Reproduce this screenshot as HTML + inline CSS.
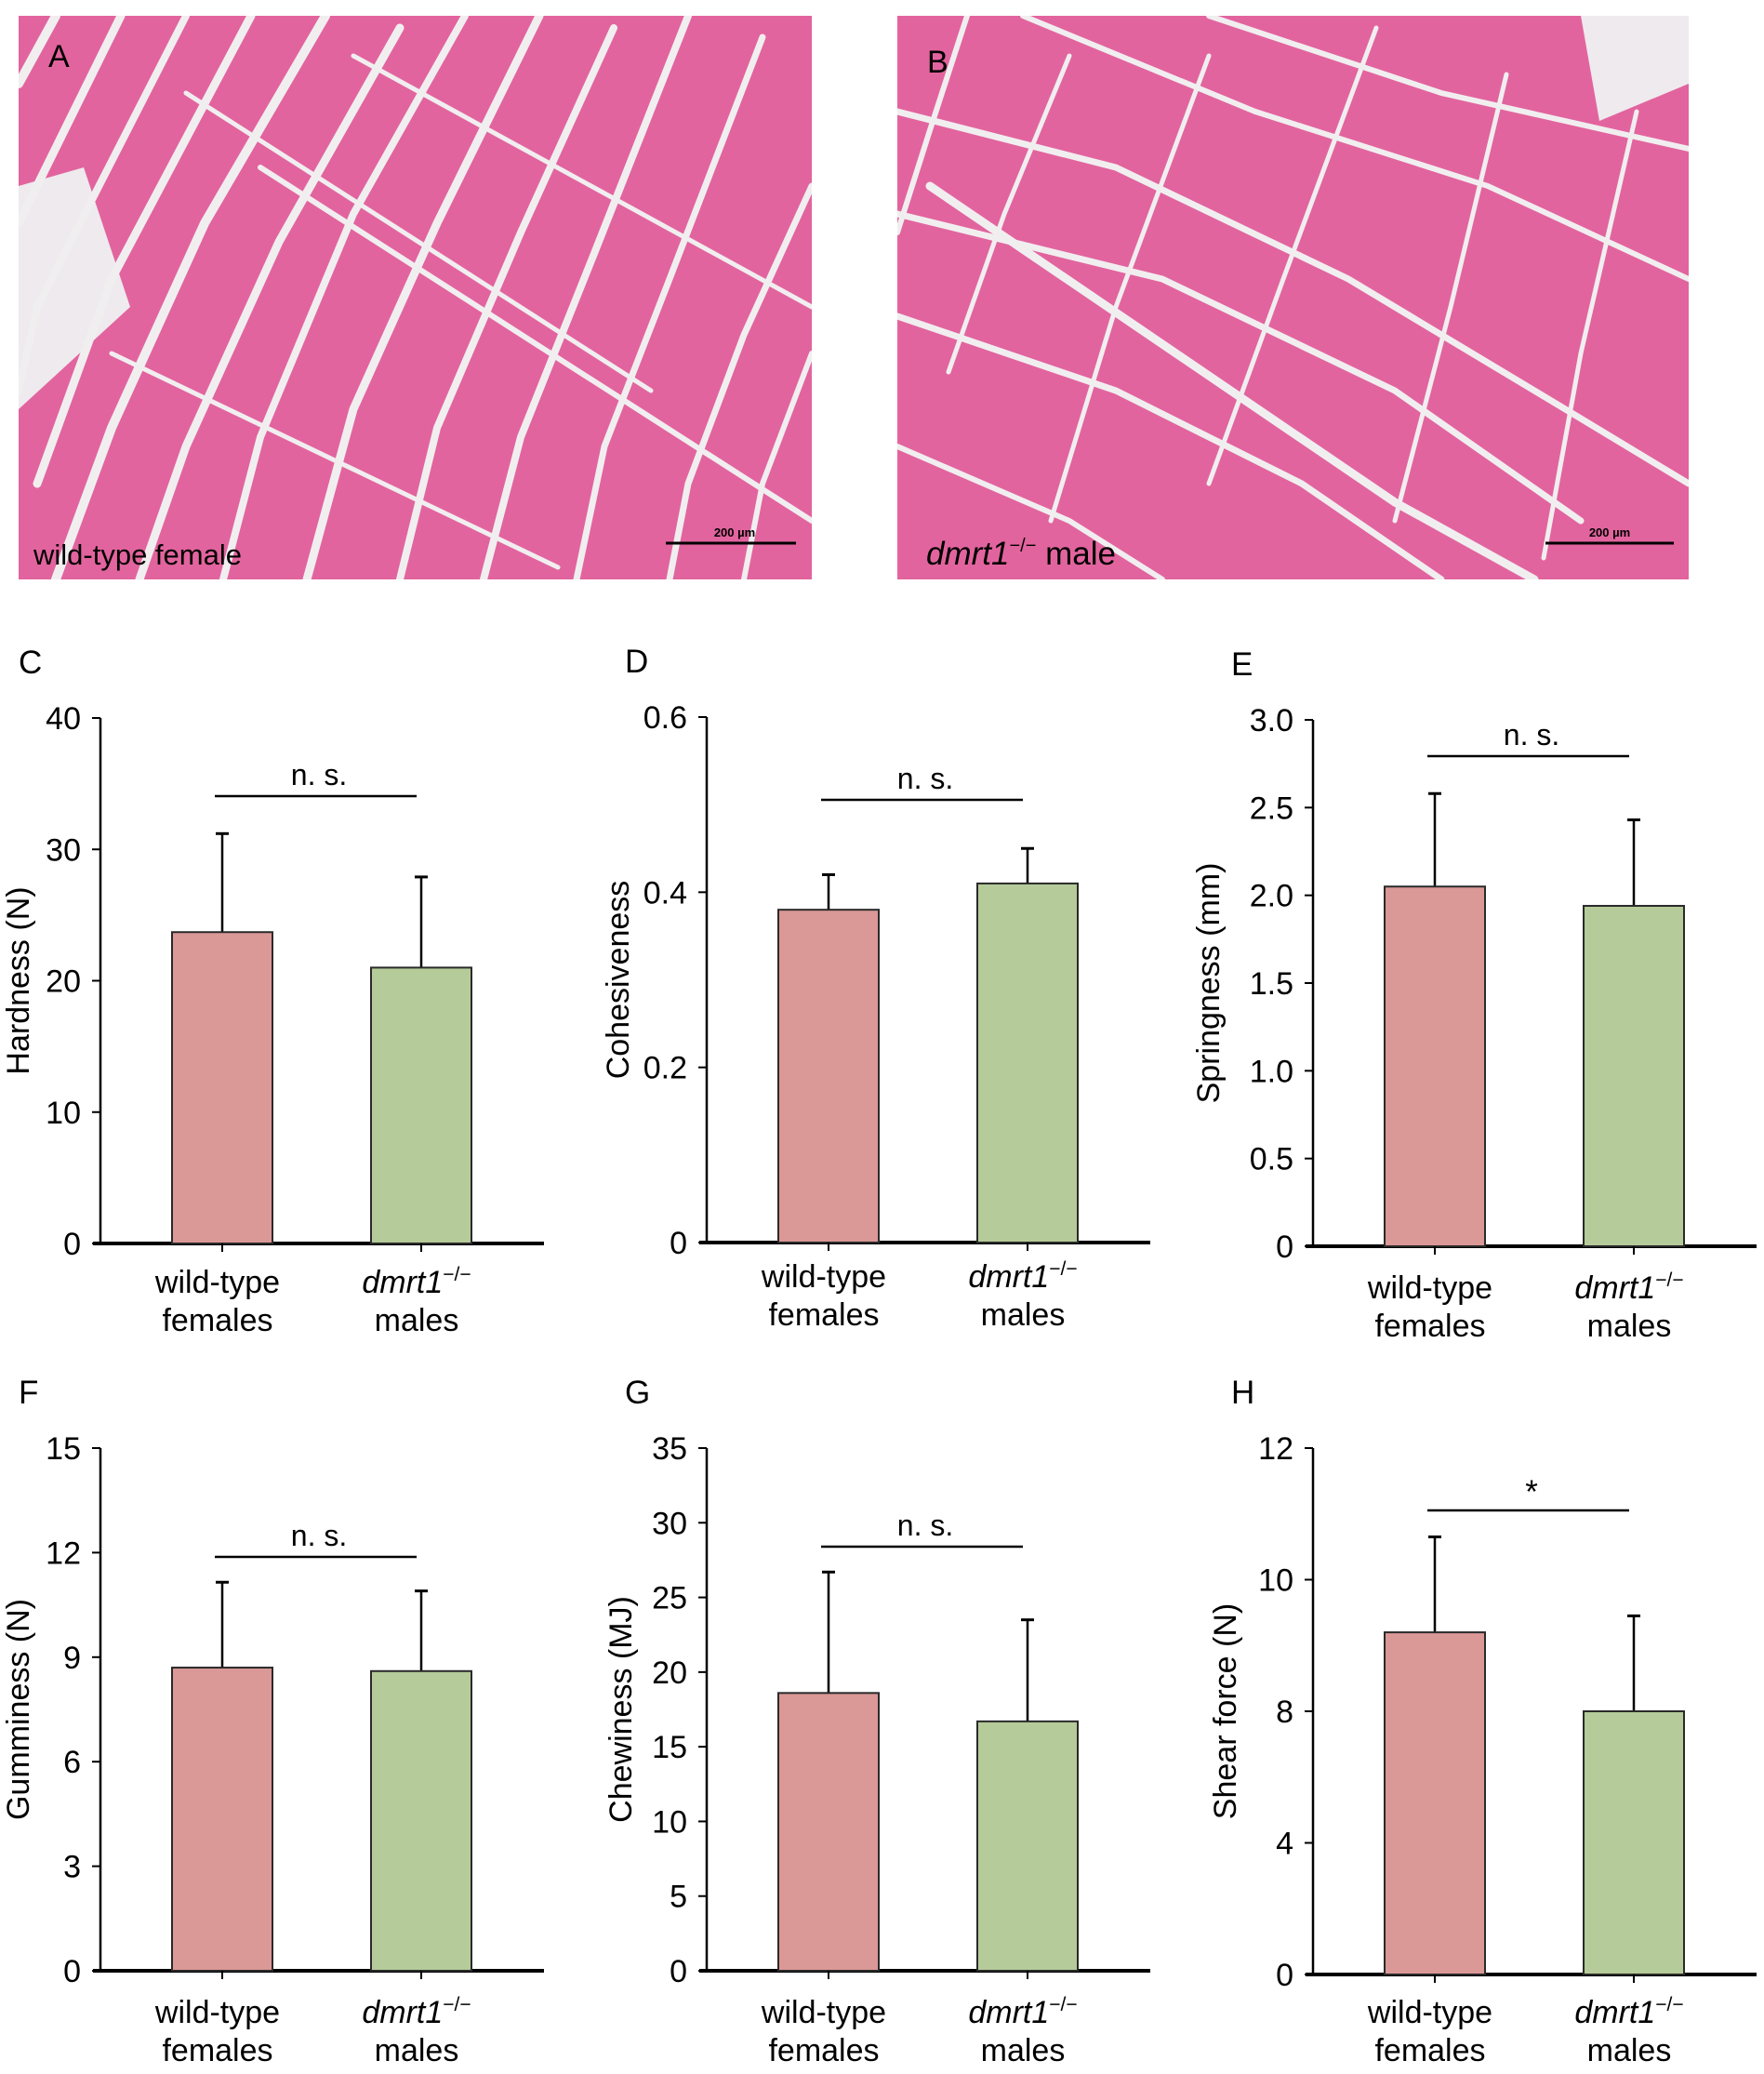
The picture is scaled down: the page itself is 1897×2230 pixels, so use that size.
<!DOCTYPE html>
<html><head><meta charset="utf-8">
<style>
html,body{margin:0;padding:0;background:#fff;}
svg{display:block;font-family:"Liberation Sans",Arial,sans-serif;}
</style></head>
<body>
<svg id="fig" width="1897" height="2230" viewBox="0 0 1897 2230" xmlns="http://www.w3.org/2000/svg">
<defs>
<clipPath id="clipA"><rect x="20" y="17" width="853" height="606"/></clipPath>
<clipPath id="clipB"><rect x="965" y="17" width="851" height="606"/></clipPath>
</defs>
<g>
<rect x="20" y="17" width="853" height="606" fill="#e2649e"/>
<g clip-path="url(#clipA)" stroke="#f1eef0" fill="none" stroke-linecap="round">
<path d="M20 200 L90 180 L140 330 L20 440 Z" fill="#eeeaee" stroke="none"/>
<path d="M60 17 L20 90" stroke-width="10"/>
<path d="M130 17 L20 240" stroke-width="9"/>
<path d="M200 17 L40 330 L20 420" stroke-width="8"/>
<path d="M270 17 L120 300 L40 520" stroke-width="9"/>
<path d="M350 17 L220 240 L120 460 L60 623" stroke-width="10"/>
<path d="M430 30 L300 260 L200 480 L150 623" stroke-width="9"/>
<path d="M500 17 L380 230 L280 470 L240 623" stroke-width="8"/>
<path d="M580 17 L470 240 L380 440 L330 623" stroke-width="9"/>
<path d="M660 30 L560 250 L470 460 L430 623" stroke-width="8"/>
<path d="M740 17 L640 270 L560 470 L520 623" stroke-width="8"/>
<path d="M820 40 L720 300 L650 480 L620 623" stroke-width="7"/>
<path d="M873 200 L800 360 L740 520 L720 623" stroke-width="7"/>
<path d="M873 380 L820 520 L800 623" stroke-width="6"/>
<path d="M280 180 L873 560" stroke-width="6"/>
<path d="M200 100 L700 420" stroke-width="5"/>
<path d="M380 60 L873 330" stroke-width="5"/>
<path d="M120 380 L600 610" stroke-width="5"/>
</g>
<text x="52" y="72" font-size="34">A</text>
<text x="36" y="607" font-size="31">wild-type female</text>
<line x1="716" y1="584" x2="856" y2="584" stroke="#000" stroke-width="3"/>
<text x="790" y="577" font-size="13" font-weight="bold" text-anchor="middle">200 µm</text>
</g>
<g>
<rect x="965" y="17" width="851" height="606" fill="#e2649e"/>
<g clip-path="url(#clipB)" stroke="#f1eef0" fill="none" stroke-linecap="round">
<path d="M1700 17 L1816 17 L1816 90 L1720 130 Z" fill="#eeeaee" stroke="none"/>
<path d="M965 120 L1200 180 L1450 300 L1700 450 L1816 520" stroke-width="7"/>
<path d="M965 230 L1250 300 L1500 420 L1700 560" stroke-width="7"/>
<path d="M965 340 L1200 420 L1400 520 L1550 623" stroke-width="7"/>
<path d="M1100 17 L1350 120 L1600 200 L1816 300" stroke-width="6"/>
<path d="M1300 17 L1550 100 L1816 160" stroke-width="6"/>
<path d="M965 480 L1150 560 L1250 623" stroke-width="6"/>
<path d="M1040 17 L1000 140 L965 250" stroke-width="6"/>
<path d="M1150 60 L1080 230 L1020 400" stroke-width="5"/>
<path d="M1300 60 L1200 330 L1130 560" stroke-width="5"/>
<path d="M1480 30 L1380 300 L1300 520" stroke-width="5"/>
<path d="M1620 80 L1560 330 L1500 560" stroke-width="5"/>
<path d="M1760 120 L1700 380 L1660 600" stroke-width="5"/>
<path d="M1000 200 L1500 540 L1650 623" stroke-width="9"/>
</g>
<text x="997" y="78" font-size="34">B</text>
<text x="996" y="607" font-size="35"><tspan font-style="italic">dmrt1</tspan><tspan font-size="20" dy="-14">−/−</tspan><tspan dy="14"> male</tspan></text>
<line x1="1662" y1="584" x2="1800" y2="584" stroke="#000" stroke-width="3"/>
<text x="1731" y="577" font-size="13" font-weight="bold" text-anchor="middle">200 µm</text>
</g>
<g id="charts"></g>
</svg>
<script>
// Chart data
const categories = ["wild-type females", "dmrt1-/- males"];
const hardnessMeans = [23.7, 21.0];
const hardnessErr = [7.5, 6.9];
const hardnessTicks = [0, 10, 20, 30, 40];
const cohesMeans = [0.38, 0.41];
const cohesErr = [0.04, 0.04];
const cohesTicks = [0, 0.2, 0.4, 0.6];
const springMeans = [2.05, 1.94];
const springErr = [0.53, 0.49];
const springTicks = [0, 0.5, 1.0, 1.5, 2.0, 2.5, 3.0];
const gumMeans = [8.7, 8.6];
const gumErr = [2.45, 2.3];
const gumTicks = [0, 3, 6, 9, 12, 15];
const chewMeans = [18.6, 16.7];
const chewErr = [8.1, 6.8];
const chewTicks = [0, 5, 10, 15, 20, 25, 30, 35];
const shearMeans = [9.2, 8.0];
const shearErr = [1.45, 1.45];
const shearTicks = [0, 4, 8, 10, 12];
const sigLabels = ["n. s.", "n. s.", "n. s.", "n. s.", "n. s.", "*"];

const NS = "http://www.w3.org/2000/svg";
const root = document.getElementById("charts");
function mk(tag, attrs, parent) {
  const e = document.createElementNS(NS, tag);
  for (const k in attrs) e.setAttribute(k, attrs[k]);
  parent.appendChild(e);
  return e;
}
const panels = [
  {id:"c", letter:"C", ax:108, y0:1337, yT:772, title:"Hardness (N)", tx:20, means:hardnessMeans, err:hardnessErr, ticks:hardnessTicks, dec:0, sigY:856, lab1:1390, lab2:1431},
  {id:"d", letter:"D", ax:760, y0:1336, yT:771, title:"Cohesiveness", tx:665, means:cohesMeans, err:cohesErr, ticks:cohesTicks, dec:1, sigY:860, lab1:1384, lab2:1425},
  {id:"e", letter:"E", ax:1412, y0:1340, yT:774, title:"Springness (mm)", tx:1300, means:springMeans, err:springErr, ticks:springTicks, dec:1, sigY:813, lab1:1396, lab2:1437},
  {id:"f", letter:"F", ax:108, y0:2119, yT:1557, title:"Gumminess (N)", tx:20, means:gumMeans, err:gumErr, ticks:gumTicks, dec:0, sigY:1674, lab1:2175, lab2:2216},
  {id:"g", letter:"G", ax:760, y0:2119, yT:1557, title:"Chewiness (MJ)", tx:668, means:chewMeans, err:chewErr, ticks:chewTicks, dec:0, sigY:1663, lab1:2175, lab2:2216},
  {id:"h", letter:"H", ax:1412, y0:2123, yT:1557, title:"Shear force (N)", tx:1318, means:shearMeans, err:shearErr, ticks:shearTicks, dec:0, sigY:1624, lab1:2175, lab2:2216}
];
function fmt(v, dec) {
  if (v === 0) return "0";
  return v.toFixed(dec);
}
panels.forEach((p, pi) => {
  const g = mk("g", {}, root);
  
  
  const n = p.ticks.length - 1;
  const yScale = v => {
    for (let i = 0; i < n; i++) {
      if (v <= p.ticks[i + 1] || i === n - 1) {
        const f = (v - p.ticks[i]) / (p.ticks[i + 1] - p.ticks[i]);
        return p.y0 - (i + f) * (p.y0 - p.yT) / n;
      }
    }
  };
  const letter = mk("text", {x: p.ax - 88, y: p.yT - 48, "font-size": 35}, g);
  letter.textContent = p.letter;
  
  
  const yAxis = mk("line", {x1: p.ax, y1: p.yT, x2: p.ax, y2: p.y0, stroke: "#000", "stroke-width": 2.5}, g);
  
  
  p.ticks.forEach((t, i) => {
    const y = yScale(t);
    const tk = mk("line", {x1: p.ax - 9, y1: y, x2: p.ax, y2: y, stroke: "#000", "stroke-width": 2}, g);
    
    
    const tl = mk("text", {x: p.ax - 21, y: y + 12, "font-size": 34, "text-anchor": "end"}, g);
    tl.textContent = fmt(t, p.dec);
    
    
  });
  const xAxis = mk("line", {x1: p.ax - 8, y1: p.y0, x2: p.ax + 477, y2: p.y0, stroke: "#000", "stroke-width": 4}, g);
  
  
  const yt = mk("text", {x: p.tx, y: (p.y0 + p.yT) / 2, "font-size": 34, "text-anchor": "middle", transform: "rotate(-90 " + p.tx + " " + ((p.y0 + p.yT) / 2) + ")", "dominant-baseline": "central"}, g);
  yt.textContent = p.title;
  
  
  const centers = [p.ax + 131, p.ax + 345];
  const fills = ["#da9896", "#b5cb99"];
  p.means.forEach((m, i) => {
    const cx = centers[i];
    const top = yScale(m + p.err[i]);
    const ebar = mk("line", {x1: cx, y1: top, x2: cx, y2: yScale(m), stroke: "#000", "stroke-width": 2.5}, g);
    
    
    const cap = mk("line", {x1: cx - 7, y1: top, x2: cx + 7, y2: top, stroke: "#000", "stroke-width": 3}, g);
    
    
    const yb = yScale(m);
    const bar = mk("rect", {x: cx - 54, y: yb, width: 108, height: p.y0 - yb, fill: fills[i], stroke: "#2a2a2a", "stroke-width": 2}, g);
    
    
    const xt = mk("line", {x1: cx, y1: p.y0, x2: cx, y2: p.y0 + 9, stroke: "#000", "stroke-width": 2}, g);
    
    
    const l1 = mk("text", {x: cx - 5, y: p.lab1, "font-size": 34, "text-anchor": "middle"}, g);
    const l2 = mk("text", {x: cx - 5, y: p.lab2, "font-size": 34, "text-anchor": "middle"}, g);
    if (i === 0) {
      l1.textContent = "wild-type";
      l2.textContent = "females";
    } else {
      const a = mk("tspan", {"font-style": "italic"}, l1); a.textContent = "dmrt1";
      const b = mk("tspan", {"font-size": 21, dy: -13}, l1); b.textContent = "−/−";
      l2.textContent = "males";
    }
    
    
    
    
  });
  const sl = mk("line", {x1: centers[0] - 8, y1: p.sigY, x2: centers[1] - 5, y2: p.sigY, stroke: "#000", "stroke-width": 2.5}, g);
  
  
  const st = mk("text", {x: (centers[0] + centers[1]) / 2 - 3, y: p.sigY - (sigLabels[pi] === "*" ? 8 : 12), "font-size": sigLabels[pi] === "*" ? 35 : 32, "text-anchor": "middle"}, g);
  st.textContent = sigLabels[pi];
  
  
});
</script>
</body></html>
